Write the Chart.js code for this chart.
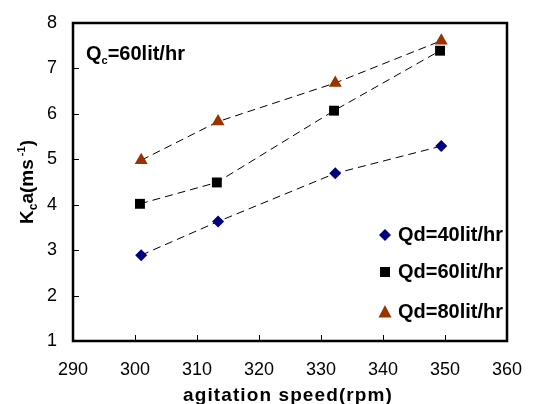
<!DOCTYPE html>
<html>
<head>
<meta charset="utf-8">
<script src="https://cdn.jsdelivr.net/npm/chart.js@4"></script>
<style>
  html, body { margin: 0; padding: 0; background: #fff; }
  #wrap { width: 534px; height: 404px; }
</style>
</head>
<body>
<div id="wrap"><canvas id="chart" width="534" height="404"></canvas></div>
<script>
// Data
const speedQd40 = [301.0, 313.4, 332.3, 349.4];
const kcaQd40 = [2.89, 3.63, 4.69, 5.29];
const speedQd60 = [300.8, 313.2, 332.1, 349.2];
const kcaQd60 = [4.02, 4.49, 6.07, 7.39];
const speedQd80 = [301.0, 313.4, 332.3, 349.4];
const kcaQd80 = [4.98, 5.83, 6.68, 7.61];

const xTicks = [290, 300, 310, 320, 330, 340, 350, 360];
const yTicks = [1, 2, 3, 4, 5, 6, 7, 8];

const seriesNames = ['Qd=40lit/hr', 'Qd=60lit/hr', 'Qd=80lit/hr'];
const seriesColors = ['#000080', '#000000', '#993300'];
const seriesShapes = ['rectRot', 'rect', 'triangle'];
const seriesRadius = [6, 7, 7.5];

function toPoints(xs, ys) {
  return xs.map((x, i) => ({ x: x, y: ys[i] }));
}

const FONT = '"Liberation Sans", Arial, sans-serif';

// Frame, inside ticks, titles, note and legend
const decorations = {
  id: 'decorations',
  afterDraw(chart) {
    const ctx = chart.ctx;
    const area = chart.chartArea;
    const xs = chart.scales.x;
    const ys = chart.scales.y;
    ctx.save();

    // frame
    ctx.strokeStyle = '#000';
    ctx.lineWidth = 2.5;
    ctx.strokeRect(area.left, area.top, area.right - area.left, area.bottom - area.top);

    // inward ticks
    ctx.lineWidth = 1;
    ctx.beginPath();
    xTicks.forEach(v => {
      const px = Math.round(xs.getPixelForValue(v)) + 0.5;
      ctx.moveTo(px, area.bottom);
      ctx.lineTo(px, area.bottom - 6);
    });
    yTicks.forEach(v => {
      const py = Math.round(ys.getPixelForValue(v)) + 0.5;
      ctx.moveTo(area.left, py);
      ctx.lineTo(area.left + 6, py);
    });
    ctx.stroke();

    ctx.fillStyle = '#000';
    ctx.textBaseline = 'alphabetic';

    // x title
    ctx.font = 'bold 19px ' + FONT;
    ctx.textAlign = 'center';
    ctx.letterSpacing = '1.1px';
    ctx.fillText('agitation speed(rpm)', 288, 401);
    ctx.letterSpacing = '0px';

    // y title with sub/superscript
    ctx.save();
    ctx.translate(33, 182);
    ctx.rotate(-Math.PI / 2);
    const parts = [
      { t: 'K', f: 'bold 19px ', dy: 0 },
      { t: 'c', f: 'bold 12px ', dy: 4 },
      { t: 'a(ms', f: 'bold 19px ', dy: 0 },
      { t: ' -1', f: 'bold 11px ', dy: -8 },
      { t: ')', f: 'bold 19px ', dy: 0 }
    ];
    let total = 0;
    parts.forEach(p => { ctx.font = p.f + FONT; total += ctx.measureText(p.t).width; });
    let cx = -total / 2;
    ctx.textAlign = 'left';
    parts.forEach(p => {
      ctx.font = p.f + FONT;
      ctx.fillText(p.t, cx, p.dy);
      cx += ctx.measureText(p.t).width;
    });
    ctx.restore();

    // note Qc=60lit/hr
    ctx.textAlign = 'left';
    let nx = 86;
    ctx.font = 'bold 20px ' + FONT;
    ctx.fillText('Q', nx, 60);
    nx += ctx.measureText('Q').width;
    ctx.font = 'bold 11px ' + FONT;
    ctx.fillText('c', nx, 64);
    nx += ctx.measureText('c').width;
    ctx.font = 'bold 20px ' + FONT;
    ctx.fillText('=60lit/hr', nx, 60);

    // legend
    const legendY = [235, 272, 312];
    seriesNames.forEach((name, i) => {
      const mx = 385, my = legendY[i];
      ctx.fillStyle = seriesColors[i];
      ctx.beginPath();
      if (seriesShapes[i] === 'rectRot') {
        ctx.moveTo(mx, my - 6); ctx.lineTo(mx + 6, my); ctx.lineTo(mx, my + 6); ctx.lineTo(mx - 6, my);
      } else if (seriesShapes[i] === 'rect') {
        ctx.rect(mx - 5, my - 5, 10, 10);
      } else {
        ctx.moveTo(mx, my - 7); ctx.lineTo(mx + 6.5, my + 5.5); ctx.lineTo(mx - 6.5, my + 5.5);
      }
      ctx.closePath();
      ctx.fill();
      ctx.fillStyle = '#000';
      ctx.font = 'bold 20px ' + FONT;
      ctx.fillText(name, 398, my + 6);
    });

    ctx.restore();
  }
};

new Chart(document.getElementById('chart'), {
  type: 'scatter',
  data: {
    datasets: [
      { label: seriesNames[0], data: toPoints(speedQd40, kcaQd40) },
      { label: seriesNames[1], data: toPoints(speedQd60, kcaQd60) },
      { label: seriesNames[2], data: toPoints(speedQd80, kcaQd80) }
    ].map((d, i) => Object.assign(d, {
      showLine: true,
      borderColor: '#000',
      borderWidth: 1,
      borderDash: [8, 5],
      pointStyle: seriesShapes[i],
      pointRadius: seriesRadius[i],
      pointBackgroundColor: seriesColors[i],
      pointBorderColor: seriesColors[i],
      pointBorderWidth: 0,
      pointHoverRadius: seriesRadius[i]
    }))
  },
  options: {
    responsive: false,
    animation: false,
    layout: { padding: { top: 23, right: 27, left: 0, bottom: 0 } },
    plugins: { legend: { display: false }, tooltip: { enabled: false } },
    scales: {
      x: {
        type: 'linear',
        min: 290,
        max: 360,
        afterBuildTicks: s => { s.ticks = xTicks.map(v => ({ value: v })); },
        afterFit: s => { s.height = 63; },
        grid: { display: false },
        border: { display: false },
        ticks: {
          color: '#000',
          padding: 10,
          font: { family: FONT, size: 18 }
        }
      },
      y: {
        type: 'linear',
        min: 1,
        max: 8,
        afterBuildTicks: s => { s.ticks = yTicks.map(v => ({ value: v })); },
        afterFit: s => { s.width = 73; },
        grid: { display: false },
        border: { display: false },
        ticks: {
          color: '#000',
          padding: 8,
          font: { family: FONT, size: 18 }
        }
      }
    }
  },
  plugins: [decorations]
});
</script>
</body>
</html>
